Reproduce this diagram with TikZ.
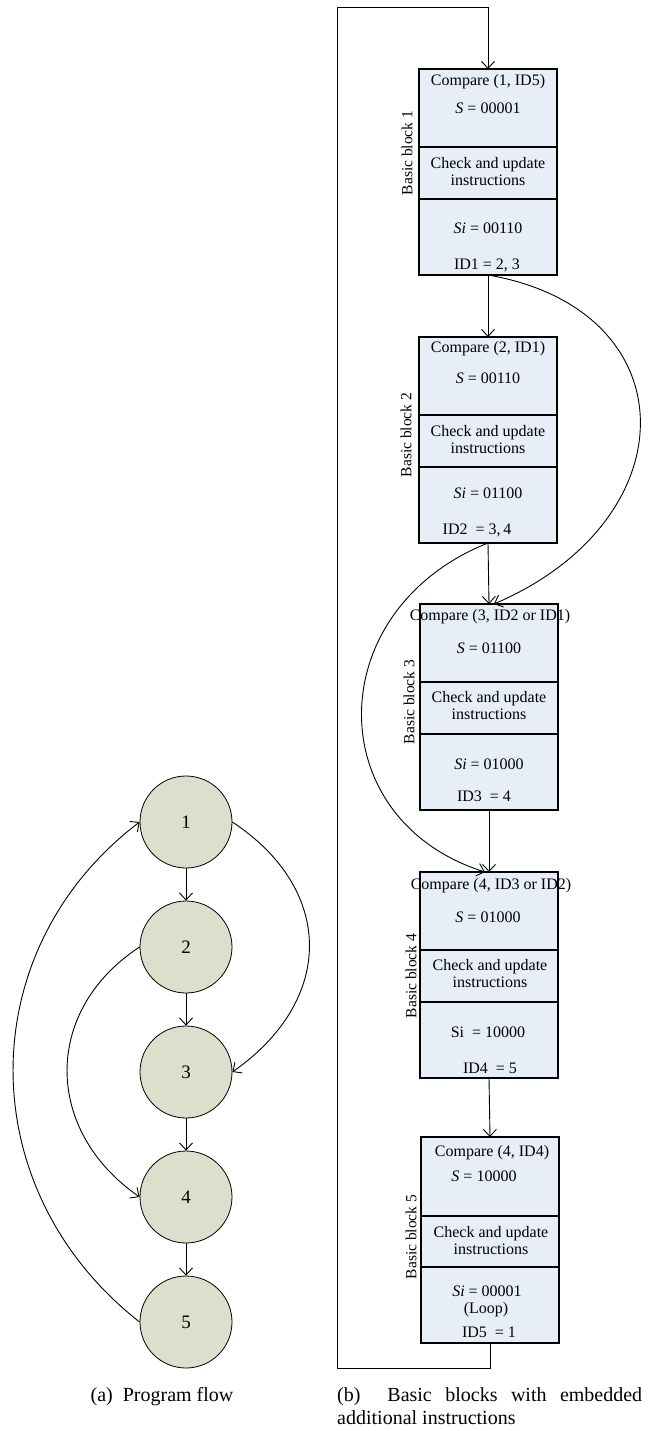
\documentclass[tikz,border=0pt]{standalone}
\usepackage{fontspec}
\setmainfont{Liberation Serif}
\usetikzlibrary{arrows.meta}
\definecolor{blockfill}{HTML}{E8EEF7}
\definecolor{circfill}{HTML}{DBDFCB}
\begin{document}
\begin{tikzpicture}[x=1pt,y=-1pt,
  sec/.style={draw, fill=blockfill, line width=1.1pt, minimum width=138pt, inner sep=0pt, outer sep=0pt, anchor=north},
  txt/.style={font=\fontsize{16}{17}\selectfont, inner sep=0pt, align=center},
  lbl/.style={font=\fontsize{15.5}{17}\selectfont, rotate=90, inner sep=0pt},
  cnode/.style={circle, draw, fill=circfill, minimum size=92pt, inner sep=0pt, line width=0.8pt, font=\fontsize{19}{20}\selectfont},
  arr/.style={-{Straight Barb[length=7pt,width=13pt]}, line width=0.9pt},
  captxt/.style={font=\fontsize{20}{23}\selectfont, inner sep=0pt}]
\useasboundingbox (0,0) rectangle (649,1431);

% ---------- (a) program flow ----------
\node[cnode] (c1) at (186,822) {1};
\node[cnode] (c2) at (186,947) {2};
\node[cnode] (c3) at (186,1072) {3};
\node[cnode] (c4) at (186,1197) {4};
\node[cnode] (c5) at (186,1322) {5};
\draw[arr] (c1) -- (c2);
\draw[arr] (c2) -- (c3);
\draw[arr] (c3) -- (c4);
\draw[arr] (c4) -- (c5);
\draw[arr] (c1.east) .. controls (335,890) and (335,1000) .. (c3.east);
\draw[arr] (c2.west) .. controls (43,1010) and (43,1130) .. (c4.west);
\draw[arr] (c5.west) .. controls (-29,1190) and (-29,950) .. (c1.west);
\node[captxt, anchor=base] (capa) at (162,1401) {(a)\ \ Program flow};

% ---------- (b) basic blocks ----------
% block 1
\node[sec, minimum height=78pt] (b1a) at (488,69) {};
\node[sec, minimum height=52pt] (b1b) at (b1a.south) {};
\node[sec, minimum height=76pt] (b1c) at (b1b.south) {};
\node[txt] (b1t1) at (488,82) {Compare (1, ID5)};
\node[txt] (b1t2) at (488,108) {\textit{S} = 00001};
\node[txt] (b1t3) at (488,172) {Check and update\\instructions};
\node[txt] (b1t4) at (488,228) {\textit{Si} = 00110};
\node[txt] (b1t5) at (487,265) {ID1 = 2, 3};
\node[lbl] (b1l) at (407,153) {Basic block 1};

% block 2
\node[sec, minimum height=78pt] (b2a) at (488,337) {};
\node[sec, minimum height=52pt] (b2b) at (b2a.south) {};
\node[sec, minimum height=76pt] (b2c) at (b2b.south) {};
\node[txt] (b2t1) at (488,349) {Compare (2, ID1)};
\node[txt] (b2t2) at (488,378) {\textit{S} = 00110};
\node[txt] (b2t3) at (488,440) {Check and update\\instructions};
\node[txt] (b2t4) at (488,493) {\textit{Si} = 01100};
\node[txt] (b2t5) at (477,530) {ID2\ \ = 3,\,4};
\node[lbl] (b2l) at (406,435) {Basic block 2};

% block 3
\node[sec, minimum height=78pt] (b3a) at (489,604) {};
\node[sec, minimum height=52pt] (b3b) at (b3a.south) {};
\node[sec, minimum height=76pt] (b3c) at (b3b.south) {};
\node[txt] (b3t1) at (490,617) {Compare (3, ID2 or ID1)};
\node[txt] (b3t2) at (489,648) {\textit{S} = 01100};
\node[txt] (b3t3) at (489,706) {Check and update\\instructions};
\node[txt] (b3t4) at (489,764) {\textit{Si} = 01000};
\node[txt] (b3t5) at (484,796) {ID3\ \ = 4};
\node[lbl] (b3l) at (409,702) {Basic block 3};

% block 4
\node[sec, minimum height=78pt] (b4a) at (489,872) {};
\node[sec, minimum height=52pt] (b4b) at (b4a.south) {};
\node[sec, minimum height=76pt] (b4c) at (b4b.south) {};
\node[txt] (b4t1) at (491,886) {Compare (4, ID3 or ID2)};
\node[txt] (b4t2) at (488,917) {\textit{S} = 01000};
\node[txt] (b4t3) at (490,974) {Check and update\\instructions};
\node[txt] (b4t4) at (488,1032) {Si\ \ = 10000};
\node[txt] (b4t5) at (490,1068) {ID4\ \ = 5};
\node[lbl] (b4l) at (411,976) {Basic block 4};

% block 5
\node[sec, minimum height=79pt] (b5a) at (490,1137) {};
\node[sec, minimum height=51pt] (b5b) at (b5a.south) {};
\node[sec, minimum height=76pt] (b5c) at (b5b.south) {};
\node[txt] (b5t1) at (492,1153) {Compare (4, ID4)};
\node[txt] (b5t2) at (484,1176) {\textit{S} = 10000};
\node[txt] (b5t3) at (491,1241) {Check and update\\instructions};
\node[txt] (b5t4) at (487,1291) {\textit{Si} = 00001};
\node[txt] (b5t5) at (486,1310) {(Loop)};
\node[txt] (b5t6) at (489,1332) {ID5\ \ = 1};
\node[lbl] (b5l) at (411,1237) {Basic block 5};

% connectors
\draw[arr] (b1c.south) -- (b2a.north);
\draw[arr] (b2c.south) -- (b3a.north);
\draw[arr] (b3c.south) -- (b4a.north);
\draw[arr] (b4c.south) -- (b5a.north);
\draw[arr] (b1c.south) .. controls (690,310) and (690,520) .. ([xshift=5pt]b3a.north);
\draw[arr] (b2c.south) .. controls (320,610) and (320,820) .. ([xshift=-4pt]b4a.north);
\coordinate (lb) at (337,1368);
\coordinate (lt) at (337,7);
\draw[arr] (b5c.south) |- (lb) -- (lt) -| (b1a.north);

\node[captxt, anchor=base west, text width=305pt, align=justify] (capb) at (337,1401)
  {(b)\ \ Basic blocks with embedded\linebreak additional instructions};
\end{tikzpicture}
\end{document}
